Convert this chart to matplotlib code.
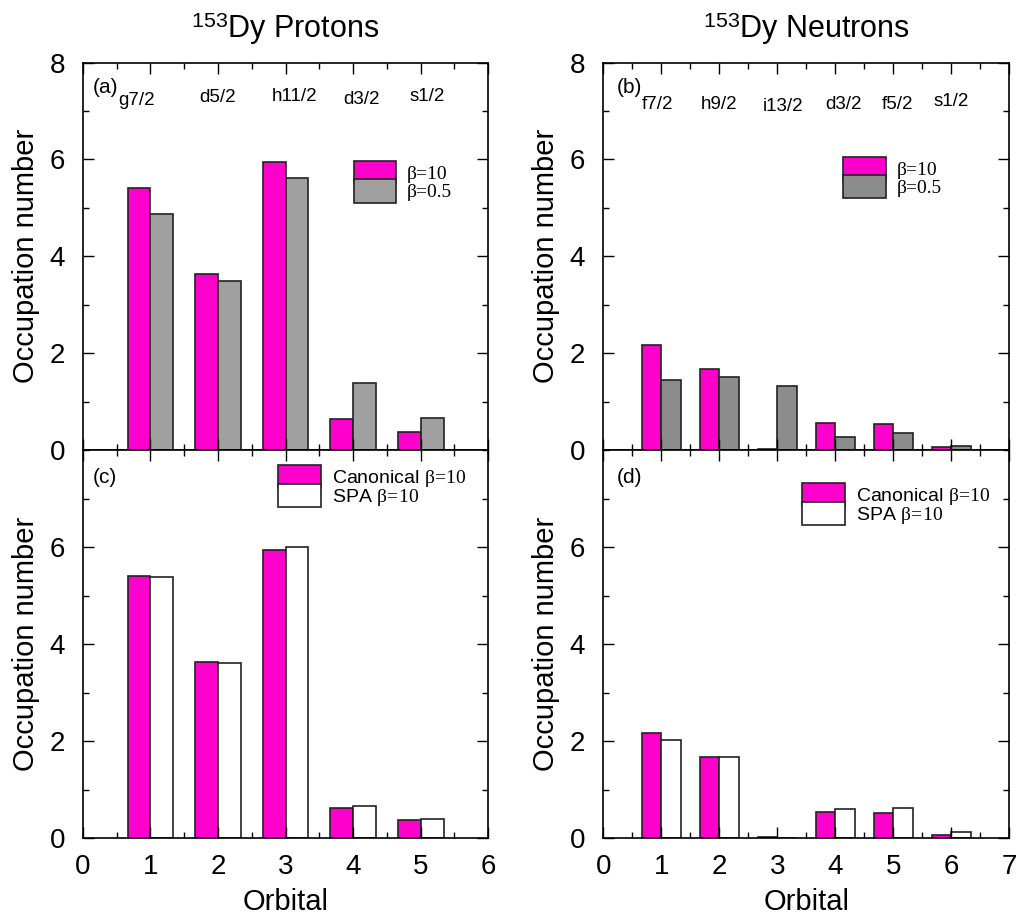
import numpy as np
import matplotlib
matplotlib.use("Agg")
import matplotlib.pyplot as plt
from matplotlib.ticker import MultipleLocator

plt.rcParams['font.family'] = ['Liberation Sans', 'DejaVu Sans']
plt.rcParams['mathtext.fontset'] = 'custom'
plt.rcParams['mathtext.rm'] = 'Liberation Serif'
plt.rcParams['mathtext.it'] = 'Liberation Serif:italic'
plt.rcParams['mathtext.sf'] = 'Liberation Sans'

# occupation numbers
proton_orbitals = ["g7/2", "d5/2", "h11/2", "d3/2", "s1/2"]
proton_beta10 = [5.41, 3.64, 5.95, 0.63, 0.38]
proton_beta05 = [4.88, 3.49, 5.61, 1.38, 0.67]
proton_spa = [5.38, 3.61, 6.00, 0.67, 0.40]

neutron_orbitals = ["f7/2", "h9/2", "i13/2", "d3/2", "f5/2", "s1/2"]
neutron_beta10 = [2.16, 1.67, 0.02, 0.55, 0.53, 0.07]
neutron_beta05 = [1.44, 1.50, 1.32, 0.27, 0.35, 0.08]
neutron_spa = [2.02, 1.67, 0.01, 0.60, 0.62, 0.12]

pink = '#ff00cc'
w = 0.34

fig = plt.figure(figsize=(10.23, 9.21), dpi=100)
ax_a = fig.add_axes([0.0811, 0.5114, 0.396, 0.4206])
ax_b = fig.add_axes([0.5897, 0.5114, 0.397, 0.4206])
ax_c = fig.add_axes([0.0811, 0.0898, 0.396, 0.4216])
ax_d = fig.add_axes([0.5897, 0.0898, 0.397, 0.4216])


def draw(ax, left, right, right_color, lab_l, lab_r, xmax, top):
    x = np.arange(1, len(left) + 1)
    ax.bar(x - w / 2, left, w, color=pink, edgecolor='#222222', lw=1.2, label=lab_l)
    ax.bar(x + w / 2, right, w, color=right_color, edgecolor='#222222', lw=1.2, label=lab_r)
    ax.set_xlim(0, xmax)
    ax.set_ylim(0, 8)
    ax.xaxis.set_major_locator(MultipleLocator(1))
    ax.xaxis.set_minor_locator(MultipleLocator(0.5))
    ax.yaxis.set_major_locator(MultipleLocator(2))
    ax.yaxis.set_minor_locator(MultipleLocator(1))
    ax.tick_params(which='both', direction='in', top=True, right=True, labelsize=20)
    ax.tick_params(which='major', length=8, width=1)
    ax.tick_params(which='minor', length=4, width=1)
    ax.tick_params(axis='y', which='major', pad=13)
    ax.tick_params(axis='x', which='major', pad=11)
    ax.set_ylabel("Occupation number", fontsize=21, labelpad=7)
    if top:
        ax.tick_params(labelbottom=False)
    else:
        ax.set_yticks([0, 2, 4, 6])
        ax.set_xlabel("Orbital", fontsize=21, labelpad=6)
    for s in ax.spines.values():
        s.set_linewidth(1.2)


beta10 = r"$\mathrm{\beta\!=\!10}$"
draw(ax_a, proton_beta10, proton_beta05, '#a0a0a0', "β=10", "β=0.5", 6, True)
draw(ax_b, neutron_beta10, neutron_beta05, '#8c8c8c', "β=10", "β=0.5", 7, True)
draw(ax_c, proton_beta10, proton_spa, 'white', "Canonical " + beta10, "SPA " + beta10, 6, False)
draw(ax_d, neutron_beta10, neutron_spa, 'white', "Canonical " + beta10, "SPA " + beta10, 7, False)

ax_a.set_title(r"$^{\mathsf{153}}$Dy Protons", fontsize=22, pad=18)
ax_b.set_title(r"$^{\mathsf{153}}$Dy Neutrons", fontsize=22, pad=18)

# orbital names across the top panels
p_lab_x = [0.80, 2.0, 3.13, 4.12, 5.1]
p_lab_y = [7.22, 7.28, 7.30, 7.24, 7.30]
for name, xx, yy in zip(proton_orbitals, p_lab_x, p_lab_y):
    ax_a.text(xx, yy, name, ha='center', va='center', fontsize=13.5)
n_lab_x = [0.94, 2.0, 3.1, 4.14, 5.08, 6.0]
n_lab_y = [7.13, 7.13, 7.10, 7.13, 7.13, 7.20]
for name, xx, yy in zip(neutron_orbitals, n_lab_x, n_lab_y):
    ax_b.text(xx, yy, name, ha='center', va='center', fontsize=13.5)

for ax, t in zip([ax_a, ax_b, ax_c, ax_d], ["(a)", "(b)", "(c)", "(d)"]):
    ax.text(0.025 if ax in (ax_a, ax_c) else 0.033, 0.935 if ax in (ax_a, ax_b) else 0.93,
            t, transform=ax.transAxes, fontsize=15, ha='left', va='center')

leg_kw = dict(frameon=False, handlelength=2.2, handleheight=1.45,
              labelspacing=-0.26, handletextpad=0.55, borderpad=0, borderaxespad=0,
              loc='upper left')
serif = {'family': 'Liberation Serif', 'size': 14}
ax_a.legend(bbox_to_anchor=(0.668, 0.745), prop=serif, **leg_kw)
ax_b.legend(bbox_to_anchor=(0.591, 0.757), prop=serif, **leg_kw)
ax_c.legend(bbox_to_anchor=(0.482, 0.962), fontsize=14, **leg_kw)
ax_d.legend(bbox_to_anchor=(0.490, 0.914), fontsize=14, **leg_kw)

fig.savefig("out.png", dpi=100)
